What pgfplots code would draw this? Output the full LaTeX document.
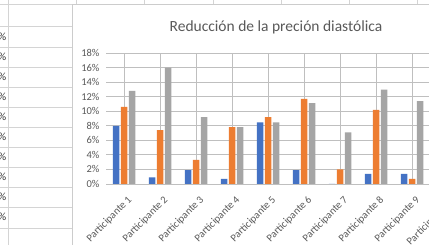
\documentclass[border=0pt]{standalone}
\usepackage{pgfplots}
\pgfplotsset{compat=1.18}
\usepackage{fontspec}
\setmainfont{Carlito}
\definecolor{cblue}{HTML}{4472C4}
\definecolor{corange}{HTML}{ED7D31}
\definecolor{cgray}{HTML}{A5A5A5}
\definecolor{grid}{HTML}{D9D9D9}
\definecolor{txt}{HTML}{595959}
\definecolor{sheet}{HTML}{D4D4D4}
\begin{document}
\begin{tikzpicture}
\fill[white] (0pt,0pt) rectangle (429pt,245pt);
\clip (0pt,0pt) rectangle (429pt,245pt);
% spreadsheet background
\foreach \yy in {219,198,178,158,138,118,98,78,58,38,17} {
  \draw[sheet, line width=0.8pt] (0pt,\yy pt) -- (72pt,\yy pt);
}
\draw[sheet, line width=0.8pt] (8pt,0pt) -- (8pt,245pt);
\foreach \xx in {76,144,213,281,349,417} {
  \draw[sheet, line width=0.8pt] (\xx pt,245pt) -- (\xx pt,240pt);
}
\draw[sheet, line width=0.8pt] (0pt,241pt) -- (429pt,241pt);
\foreach \yy in {208,188,168,148,128,108,88,68,48,28} {
  \node[anchor=east, inner sep=0pt, font=\fontsize{11}{11}\selectfont, text=black!80] at (6.5pt,\yy pt) {\%};
}
% chart area
\fill[white] (72pt,0pt) rectangle (440pt,241pt);
\draw[black!20, line width=0.6pt] (72pt,-2pt) -- (72pt,241pt) -- (440pt,241pt);
% title
\node[font=\fontsize{15.5}{15.5}\selectfont, text=txt] at (276pt,218pt) {Reducción de la preción diastólica};
\begin{scope}[overlay]
\begin{axis}[
  at={(106pt,61pt)}, anchor=south west,
  scale only axis, width=360pt, height=131pt,
  xmin=-0.5, xmax=9.5, ymin=0, ymax=18,
  ytick={0,2,...,18},
  yticklabel={\pgfmathprintnumber{\tick}\%},
  xtick={0,...,9},
  xticklabels={Participante 1,Participante 2,Participante 3,Participante 4,Participante 5,Participante 6,Participante 7,Participante 8,Participante 9,Participante 10},
  /pgf/number format/assume math mode=true,
  axis line style={draw=none},
  major tick length=0pt,
  ymajorgrids, grid style={grid, line width=0.8pt},
  tick label style={font=\fontsize{10.5}{10.5}\selectfont, text=txt},
  yticklabel style={xshift=-3pt},
  xticklabel style={shift={(3pt,-11pt)}, rotate=45, anchor=north east, inner sep=0pt},
  ybar, bar width=6.5pt,
  clip=false,
]
\addplot[fill=cblue, draw=none, bar shift=-8pt] coordinates {(0,8.0) (1,0.9) (2,1.9) (3,0.7) (4,8.45) (5,1.9) (6,0) (7,1.4) (8,1.4)};
\addplot[fill=corange, draw=none, bar shift=0pt] coordinates {(0,10.6) (1,7.4) (2,3.3) (3,7.8) (4,9.2) (5,11.7) (6,2.0) (7,10.2) (8,0.7)};
\addplot[fill=cgray, draw=none, bar shift=8pt] coordinates {(0,12.8) (1,16.0) (2,9.2) (3,7.8) (4,8.45) (5,11.1) (6,7.1) (7,12.95) (8,11.4)};
\end{axis}
\end{scope}
\end{tikzpicture}
\end{document}
